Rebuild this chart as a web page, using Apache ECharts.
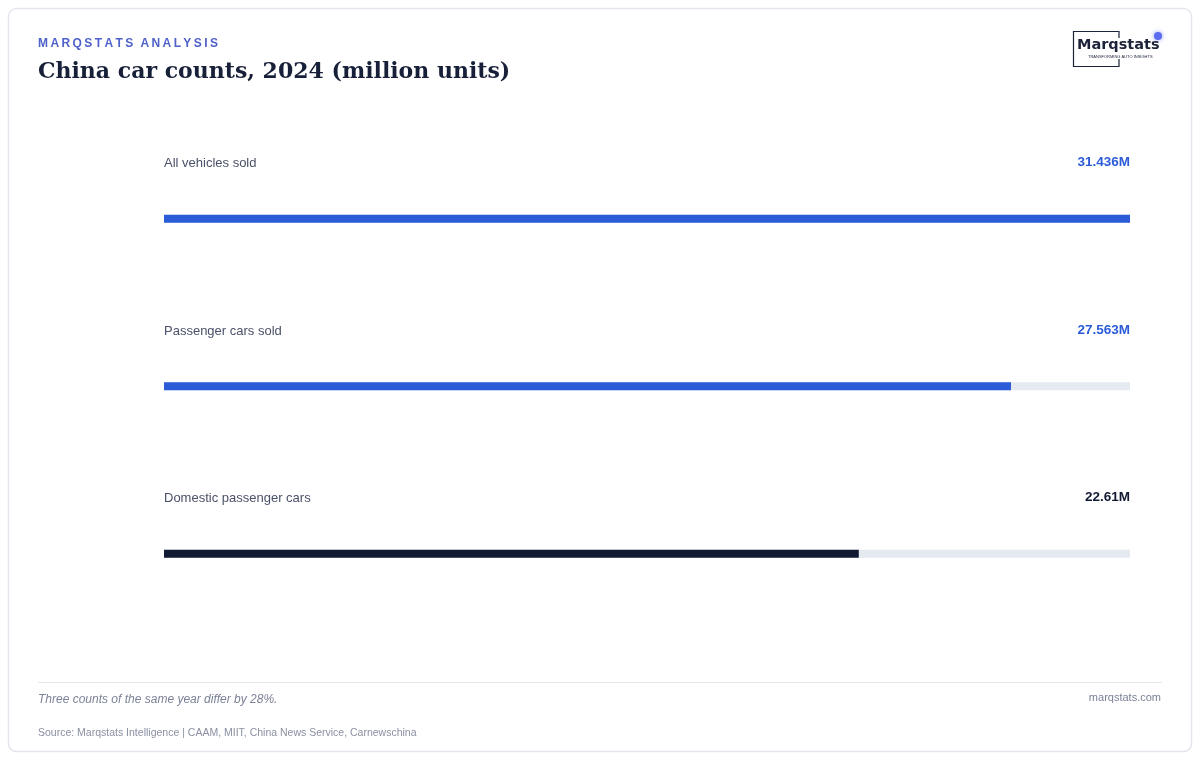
<!DOCTYPE html>
<html>
<head>
<meta charset="utf-8">
<script src="https://cdn.jsdelivr.net/npm/echarts@6/dist/echarts.min.js"></script>
<style>
html,body{margin:0;padding:0;background:#fff;}
#c{width:1200px;height:760px;}
</style>
</head>
<body>
<div id="c"></div>
<script>
const categories = ['All vehicles sold', 'Passenger cars sold', 'Domestic passenger cars'];
const values = [31.436, 27.563, 22.61];
const valueLabels = ['31.436M', '27.563M', '22.61M'];
const barColors = ['#2b5bd7', '#2b5bd7', '#121a33'];
const labelColors = ['#2b5bd7', '#2b5bd7', '#121a33'];

const maxV = Math.max(...values);
const chart = echarts.init(document.getElementById('c'), null, {renderer: 'canvas'});
const sans = '"Liberation Sans", Arial, Helvetica, sans-serif';
const spaced = s => s.split('').join('\u2009');

const option = {
  animation: false,
  backgroundColor: '#ffffff',
  grid: {left: 164, right: 70, top: 135, bottom: 122.5, containLabel: false},
  xAxis: {type: 'value', min: 0, max: maxV, show: false},
  yAxis: {type: 'category', data: categories, inverse: true, show: false},
  series: [
    {
      type: 'bar',
      barWidth: 8,
      data: values.map((v, i) => ({value: v, itemStyle: {color: barColors[i]}})),
      showBackground: true,
      backgroundStyle: {color: '#e5eaf1'},
      silent: true
    },
    {
      type: 'scatter',
      symbolSize: 0,
      itemStyle: {opacity: 1},
      data: categories.map((c, i) => ({value: [0, c]})),
      label: {
        show: true, position: 'right', distance: 0, offset: [0, -55],
        formatter: p => categories[p.dataIndex],
        color: '#4a5168', fontSize: 13, fontFamily: sans
      },
      silent: true
    },
    {
      type: 'scatter',
      symbolSize: 0,
      itemStyle: {opacity: 1},
      data: categories.map((c, i) => ({
        value: [maxV, c],
        label: {color: labelColors[i]}
      })),
      label: {
        show: true, position: 'left', distance: 0, offset: [0, -56],
        formatter: p => valueLabels[p.dataIndex],
        fontSize: 13.5, fontWeight: 'bold', fontFamily: sans
      },
      silent: true
    }
  ],
  graphic: [
    {type: 'rect', shape: {x: 8.5, y: 8.5, width: 1183, height: 743, r: 8},
     style: {fill: 'none', stroke: '#e3e6ec', lineWidth: 1.5}, z: -1},
    {type: 'text', left: 38, top: 38, style: {
      text: spaced('MARQSTATS') + '\u2009\u2009\u2009' + spaced('ANALYSIS'), fill: '#4f62c9',
      font: 'bold 12px ' + sans}},
    {type: 'text', left: 38, top: 61, style: {
      text: 'China car counts, 2024 (million units)', fill: '#172038',
      font: 'bold 22px "DejaVu Serif", serif'}},
    // logo
    {type: 'polyline', shape: {points: [[1119, 38], [1119, 31.5], [1073.5, 31.5], [1073.5, 66.5], [1119, 66.5], [1119, 59]]},
     style: {stroke: '#1c2238', lineWidth: 1.2, fill: 'none'}},
    {type: 'text', left: 1077, top: 38, style: {
      text: 'Marqstats', fill: '#1c2238', font: 'bold 14.5px "DejaVu Sans", sans-serif'}},
    {type: 'text', left: 1088, top: 55, style: {
      text: 'TRANSFORMING AUTO INSIGHTS', fill: '#1c2238', font: '4px ' + sans}},
    {type: 'circle', shape: {cx: 1158, cy: 36, r: 4},
     style: {fill: '#5b6cf0', shadowBlur: 4, shadowColor: 'rgba(91,108,240,0.7)'}},
    // footer
    {type: 'line', shape: {x1: 38, y1: 682.5, x2: 1162, y2: 682.5},
     style: {stroke: '#e5e7eb', lineWidth: 1}},
    {type: 'text', left: 38, top: 694, style: {
      text: 'Three counts of the same year differ by 28%.', fill: '#7b8296',
      font: 'italic 12px ' + sans}},
    {type: 'text', right: 39, top: 692, style: {
      text: 'marqstats.com', fill: '#7b8296', font: '11px ' + sans}},
    {type: 'text', left: 38, top: 728, style: {
      text: 'Source: Marqstats Intelligence | CAAM, MIIT, China News Service, Carnewschina',
      fill: '#8a90a2', font: '10.5px ' + sans}}
  ]
};
chart.setOption(option);
</script>
</body>
</html>
